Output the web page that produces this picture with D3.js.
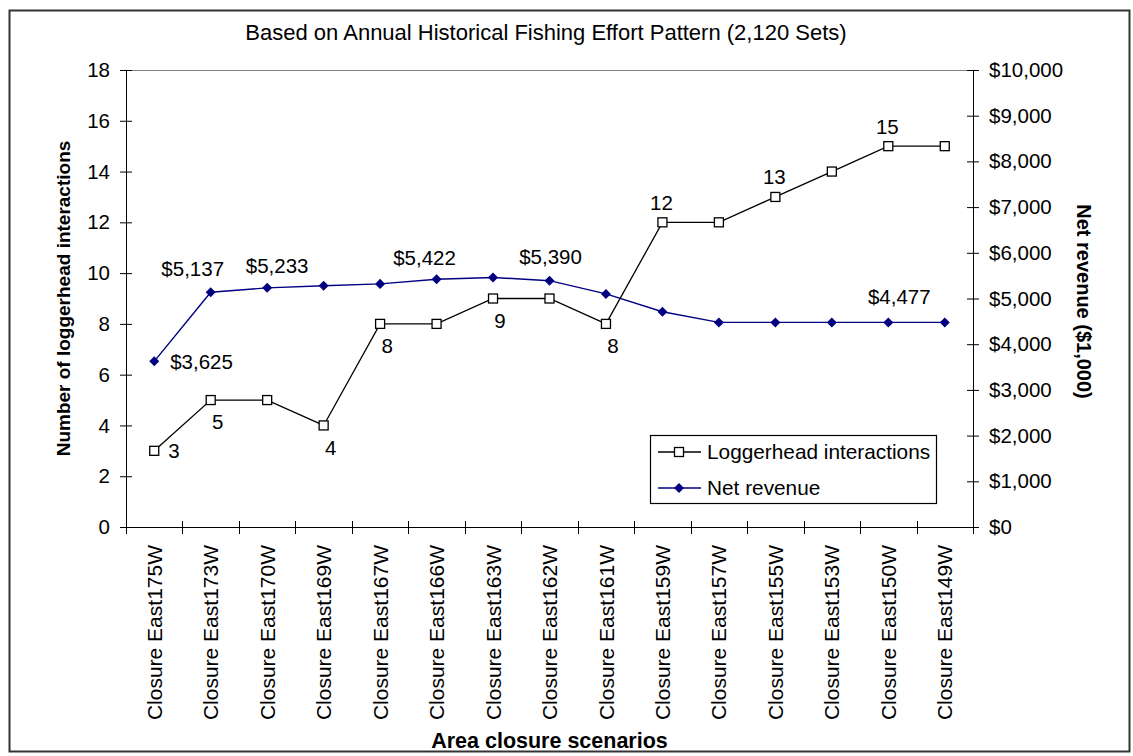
<!DOCTYPE html>
<html>
<head>
<meta charset="utf-8">
<script src="https://cdn.jsdelivr.net/npm/d3@7"></script>
<style>
  body { margin: 0; background: #fff; }
  svg text { font-family: "Liberation Sans", Arial, sans-serif; fill: #000; }
</style>
</head>
<body>
<svg id="chart" width="1133" height="756"></svg>
<script>
// chart data
const categories = ['Closure East175W', 'Closure East173W', 'Closure East170W', 'Closure East169W',
  'Closure East167W', 'Closure East166W', 'Closure East163W', 'Closure East162W', 'Closure East161W',
  'Closure East159W', 'Closure East157W', 'Closure East155W', 'Closure East153W', 'Closure East150W',
  'Closure East149W'];
const loggerhead = [3, 5, 5, 4, 8, 8, 9, 9, 8, 12, 12, 13, 14, 15, 15];
const netRevenue = [3625, 5137, 5233, 5280, 5320, 5422, 5460, 5390, 5100, 4710, 4477, 4477, 4477, 4477, 4477];
const leftTicks = [0, 2, 4, 6, 8, 10, 12, 14, 16, 18];
const rightTicks = [0, 1000, 2000, 3000, 4000, 5000, 6000, 7000, 8000, 9000, 10000];
const loggerheadLabelIdx = [0, 1, 3, 4, 6, 8, 9, 11, 13];
const revenueLabelIdx = [0, 1, 2, 5, 7, 13];

// where each label sits relative to its point
const loggerPlace = { 0: 'right', 9: 'above', 11: 'above', 13: 'above' };
const revNudge = { 0: [16, 0, 'start'], 1: [-18, -24, 'middle'], 2: [10, -22, 'middle'],
  5: [-12, -22, 'middle'], 7: [1, -24, 'middle'], 13: [11, -26, 'middle'] };

const svg = d3.select('#chart');
const plotLeft = 126, plotRight = 973, plotTop = 70, plotBottom = 527;

// outer frame
svg.append('rect')
  .attr('x', 9.5).attr('y', 10.5)
  .attr('width', 1120).attr('height', 741)
  .attr('fill', 'none').attr('stroke', '#333').attr('stroke-width', 2);

svg.append('text')
  .attr('x', 546).attr('y', 40)
  .attr('text-anchor', 'middle')
  .style('font-size', '22px')
  .text('Based on Annual Historical Fishing Effort Pattern (2,120 Sets)');

const x = d3.scaleBand().domain(categories).range([plotLeft, plotRight]);
const cx = d => x(d) + x.bandwidth() / 2;
const yL = d3.scaleLinear().domain([0, 18]).range([plotBottom, plotTop]);
const yR = d3.scaleLinear().domain([0, 10000]).range([plotBottom, plotTop]);

// gray top border of plot area
svg.append('line')
  .attr('x1', plotLeft).attr('x2', plotRight)
  .attr('y1', plotTop + 0.5).attr('y2', plotTop + 0.5)
  .attr('stroke', '#808080').attr('stroke-width', 1.2);

// left axis
const gL = svg.append('g')
  .attr('transform', `translate(${plotLeft},0)`)
  .call(d3.axisLeft(yL).tickValues(leftTicks).tickSize(6).tickPadding(10));
gL.selectAll('.tick line').attr('x1', -6).attr('x2', 6);
gL.selectAll('.tick text').style('font-size', '20.5px');

// right axis
const fmtMoney = d => '$' + d3.format(',')(d);
const gR = svg.append('g')
  .attr('transform', `translate(${plotRight},0)`)
  .call(d3.axisRight(yR).tickValues(rightTicks).tickFormat(fmtMoney).tickSize(6).tickPadding(10));
gR.selectAll('.tick line').attr('x1', -6).attr('x2', 6);
gR.selectAll('.tick text').style('font-size', '20.5px');

[gL, gR].forEach(g => {
  g.select('.domain').attr('stroke', '#000').attr('d', `M0.5,${plotTop}V${plotBottom}`);
  g.selectAll('.tick line').attr('stroke', '#000');
});

// x axis
const gX = svg.append('g').attr('transform', `translate(0,${plotBottom})`);
gX.append('line')
  .attr('x1', plotLeft).attr('x2', plotRight)
  .attr('y1', 0.5).attr('y2', 0.5)
  .attr('stroke', '#000');
const bounds = categories.map(c => x(c)).concat([plotRight]);
gX.selectAll('.xtick')
  .data(bounds)
  .enter()
  .append('line')
  .attr('x1', d => Math.round(d) + 0.5).attr('x2', d => Math.round(d) + 0.5)
  .attr('y1', -6).attr('y2', 7)
  .attr('stroke', '#000');

svg.append('g').selectAll('text')
  .data(categories)
  .enter()
  .append('text')
  .attr('transform', d => `translate(${cx(d)},545) rotate(-90)`)
  .attr('text-anchor', 'end')
  .attr('dy', '0.36em')
  .style('font-size', '21px')
  .text(d => d);

// axis titles
svg.append('text')
  .attr('transform', `translate(70,${(plotTop + plotBottom) / 2}) rotate(-90)`)
  .attr('text-anchor', 'middle')
  .style('font-size', '19px').style('font-weight', 'bold')
  .text('Number of loggerhead interactions');

svg.append('text')
  .attr('transform', `translate(1077,${(plotTop + plotBottom) / 2 + 3}) rotate(90)`)
  .attr('text-anchor', 'middle')
  .style('font-size', '20px').style('font-weight', 'bold')
  .text('Net revenue ($1,000)');

svg.append('text')
  .attr('x', (plotLeft + plotRight) / 2).attr('y', 748)
  .attr('text-anchor', 'middle')
  .style('font-size', '21.5px').style('font-weight', 'bold')
  .text('Area closure scenarios');

// net revenue line
const revLine = d3.line()
  .x((d, i) => cx(categories[i]))
  .y(d => yR(d));
svg.append('path')
  .datum(netRevenue)
  .attr('d', revLine)
  .attr('fill', 'none')
  .attr('stroke', '#000080')
  .attr('stroke-width', 1.4);

const diamond = d3.symbol().type(d3.symbolDiamond2).size(64);
svg.append('g').selectAll('path')
  .data(netRevenue)
  .enter()
  .append('path')
  .attr('d', diamond)
  .attr('transform', (d, i) => `translate(${cx(categories[i])},${yR(d)})`)
  .attr('fill', '#000080');

// loggerhead line
const logLine = d3.line()
  .x((d, i) => cx(categories[i]))
  .y(d => yL(d));
svg.append('path')
  .datum(loggerhead)
  .attr('d', logLine)
  .attr('fill', 'none')
  .attr('stroke', '#000')
  .attr('stroke-width', 1.3);

svg.append('g').selectAll('rect')
  .data(loggerhead)
  .enter()
  .append('rect')
  .attr('x', (d, i) => cx(categories[i]) - 4.5)
  .attr('y', d => yL(d) - 4.5)
  .attr('width', 9).attr('height', 9)
  .attr('fill', '#fff').attr('stroke', '#000').attr('stroke-width', 1.3);

// data labels
svg.append('g').selectAll('text')
  .data(loggerheadLabelIdx)
  .enter()
  .append('text')
  .attr('x', i => {
    const p = loggerPlace[i];
    return cx(categories[i]) + (p === 'right' ? 14 : p === 'above' ? -1 : 7);
  })
  .attr('y', i => {
    const p = loggerPlace[i];
    return yL(loggerhead[i]) + (p === 'right' ? 0 : p === 'above' ? -20 : 22);
  })
  .attr('dy', '0.36em')
  .attr('text-anchor', i => loggerPlace[i] === 'right' ? 'start' : 'middle')
  .style('font-size', '20.5px')
  .text(i => loggerhead[i]);

svg.append('g').selectAll('text')
  .data(revenueLabelIdx)
  .enter()
  .append('text')
  .attr('x', i => cx(categories[i]) + revNudge[i][0])
  .attr('y', i => yR(netRevenue[i]) + revNudge[i][1])
  .attr('dy', '0.36em')
  .attr('text-anchor', i => revNudge[i][2])
  .style('font-size', '20.5px')
  .text(i => fmtMoney(netRevenue[i]));

// legend
const legend = svg.append('g').attr('transform', 'translate(650,435)');
legend.append('rect')
  .attr('x', 0.5).attr('y', 0.5)
  .attr('width', 286).attr('height', 68)
  .attr('fill', '#fff').attr('stroke', '#000').attr('stroke-width', 1.2);

const legendItems = [
  { name: 'Loggerhead interactions', color: '#000', mark: 'square', y: 17 },
  { name: 'Net revenue', color: '#000080', mark: 'diamond', y: 53 }
];
legendItems.forEach(it => {
  legend.append('line')
    .attr('x1', 8).attr('x2', 51)
    .attr('y1', it.y).attr('y2', it.y)
    .attr('stroke', it.color).attr('stroke-width', 1.3);
  if (it.mark === 'square') {
    legend.append('rect')
      .attr('x', 29 - 4.5).attr('y', it.y - 4.5)
      .attr('width', 9).attr('height', 9)
      .attr('fill', '#fff').attr('stroke', '#000').attr('stroke-width', 1.3);
  } else {
    legend.append('path')
      .attr('d', diamond)
      .attr('transform', `translate(29,${it.y})`)
      .attr('fill', it.color);
  }
  legend.append('text')
    .attr('x', 57).attr('y', it.y)
    .attr('dy', '0.36em')
    .style('font-size', '20.8px')
    .text(it.name);
});
</script>
</body>
</html>
